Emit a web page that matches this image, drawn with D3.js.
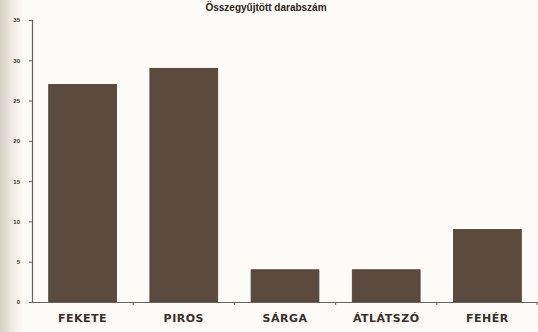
<!DOCTYPE html>
<html><head><meta charset="utf-8">
<script src="https://cdn.jsdelivr.net/npm/d3@7"></script>
<style>
html,body{margin:0;padding:0;background:#fcfbf7;}
svg{display:block;}
</style></head>
<body>
<svg id="c" width="538" height="332"></svg>
<script>
const title = "Összegyűjtött darabszám";
const categories = ["FEKETE","PIROS","SÁRGA","ÁTLÁTSZÓ","FEHÉR"];
const values = [27, 29, 4, 4, 9];
const yTicks = [0,5,10,15,20,25,30,35];

const svg = d3.select("#c");
const W = 538, H = 332;
const defs = svg.append("defs");
const g1 = defs.append("linearGradient").attr("id","edge").attr("x1",0).attr("x2",1);
g1.append("stop").attr("offset","0").attr("stop-color","#d6d0c6");
g1.append("stop").attr("offset","0.6").attr("stop-color","#f3efe7");
g1.append("stop").attr("offset","1").attr("stop-color","#fcfbf7");
svg.append("rect").attr("width",W).attr("height",H).attr("fill","#fcfbf7");
svg.append("rect").attr("width",24).attr("height",H).attr("fill","url(#edge)");

const x = d3.scaleBand().domain(categories).range([32, 538]).paddingInner(0.33).paddingOuter(0.165);
const y = d3.scaleLinear().domain([0,35]).range([302, 20]);

svg.append("text").attr("x",266).attr("y",11).attr("text-anchor","middle")
  .attr("font-family","Liberation Sans, Arial, sans-serif").attr("font-weight","bold")
  .attr("font-size",10).attr("fill","#2a2320").text(title);

svg.selectAll("rect.bar").data(values).join("rect").attr("class","bar")
  .attr("x",(d,i)=>x(categories[i])).attr("width",x.bandwidth())
  .attr("y",d=>y(d)).attr("height",d=>y(0)-y(d))
  .attr("fill","#5c4a3f").attr("stroke","#4a3a31").attr("stroke-width",0.8);

const yAxis = svg.append("g").attr("transform","translate(32,0)")
  .call(d3.axisLeft(y).tickValues(yTicks).tickSize(3).tickPadding(9));
yAxis.select(".domain").attr("stroke","#6a625c").attr("stroke-width",1.2);
yAxis.selectAll(".tick line").attr("stroke","#6a625c");
yAxis.selectAll("text").attr("font-family","Liberation Sans, Arial, sans-serif")
  .attr("font-weight","bold").attr("font-size",6).attr("fill","#3a3330");

const xAxis = svg.append("g").attr("transform","translate(0,302)")
  .call(d3.axisBottom(x).tickSize(0).tickPadding(12));
xAxis.select(".domain").attr("stroke","#6a625c").attr("stroke-width",1.2);
xAxis.selectAll(".tick line").remove();
xAxis.selectAll("text").attr("font-family","DejaVu Sans, Verdana, sans-serif")
  .attr("font-weight","bold").attr("font-size",11).attr("letter-spacing",0.5).attr("fill","#3a2e2a");
// band boundary ticks
const step = x.step();
const bounds = categories.map(c => x(c) - x.paddingInner()*step/2 + step).map(v=>Math.min(v,537));
svg.selectAll("line.bt").data(bounds).join("line").attr("class","bt")
  .attr("x1",d=>d).attr("x2",d=>d).attr("y1",302).attr("y2",305)
  .attr("stroke","#6a625c");
</script>
</body></html>
